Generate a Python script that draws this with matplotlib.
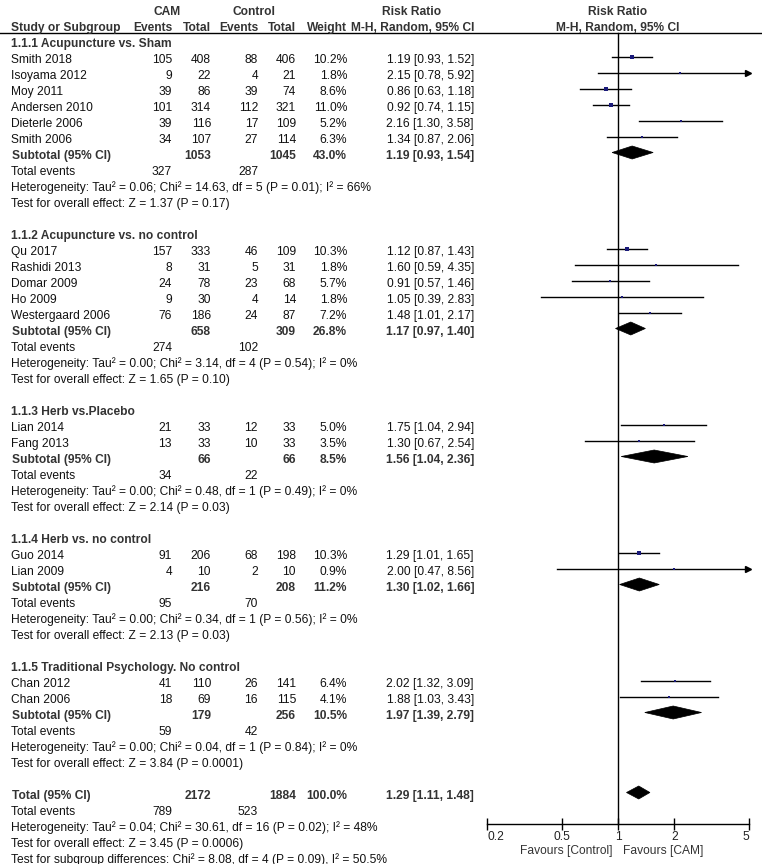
import matplotlib
matplotlib.use("Agg")
import matplotlib.pyplot as plt
from matplotlib.patches import Polygon
import numpy as np

plt.rcParams['font.family'] = ['Liberation Sans', 'DejaVu Sans']

# ---------------- data ----------------
group_names = ["1.1.1 Acupuncture vs. Sham", "1.1.2 Acupuncture vs. no control",
               "1.1.3 Herb vs.Placebo", "1.1.4 Herb vs. no control",
               "1.1.5 Traditional Psychology. No control"]

studies = [
    ["Smith 2018", "Isoyama 2012", "Moy 2011", "Andersen 2010", "Dieterle 2006", "Smith 2006"],
    ["Qu 2017", "Rashidi 2013", "Domar 2009", "Ho 2009", "Westergaard 2006"],
    ["Lian 2014", "Fang 2013"],
    ["Guo 2014", "Lian 2009"],
    ["Chan 2012", "Chan 2006"],
]
cam_events = [[105, 9, 39, 101, 39, 34], [157, 8, 24, 9, 76], [21, 13], [91, 4], [41, 18]]
cam_total = [[408, 22, 86, 314, 116, 107], [333, 31, 78, 30, 186], [33, 33], [206, 10], [110, 69]]
ctl_events = [[88, 4, 39, 112, 17, 27], [46, 5, 23, 4, 24], [12, 10], [68, 2], [26, 16]]
ctl_total = [[406, 21, 74, 321, 109, 114], [109, 31, 68, 14, 87], [33, 33], [198, 10], [141, 115]]
weights = [[10.2, 1.8, 8.6, 11.0, 5.2, 6.3], [10.3, 1.8, 5.7, 1.8, 7.2], [5.0, 3.5], [10.3, 0.9], [6.4, 4.1]]
rr = [[1.19, 2.15, 0.86, 0.92, 2.16, 1.34], [1.12, 1.60, 0.91, 1.05, 1.48], [1.75, 1.30], [1.29, 2.00], [2.02, 1.88]]
rr_lo = [[0.93, 0.78, 0.63, 0.74, 1.30, 0.87], [0.87, 0.59, 0.57, 0.39, 1.01], [1.04, 0.67], [1.01, 0.47], [1.32, 1.03]]
rr_hi = [[1.52, 5.92, 1.18, 1.15, 3.58, 2.06], [1.43, 4.35, 1.46, 2.83, 2.17], [2.94, 2.54], [1.65, 8.56], [3.09, 3.43]]

sub_cam_total = [1053, 658, 66, 216, 179]
sub_ctl_total = [1045, 309, 66, 208, 256]
sub_weight = [43.0, 26.8, 8.5, 11.2, 10.5]
sub_rr = [1.19, 1.17, 1.56, 1.30, 1.97]
sub_lo = [0.93, 0.97, 1.04, 1.02, 1.39]
sub_hi = [1.54, 1.40, 2.36, 1.66, 2.79]
sub_cam_events = [327, 274, 34, 95, 59]
sub_ctl_events = [287, 102, 22, 70, 42]
het_tau2 = ["0.06", "0.00", "0.00", "0.00", "0.00"]
het_chi2 = ["14.63", "3.14", "0.48", "0.34", "0.04"]
het_df = [5, 4, 1, 1, 1]
het_p = ["0.01", "0.54", "0.49", "0.56", "0.84"]
het_i2 = ["66", "0", "0", "0", "0"]
test_z = ["1.37", "1.65", "2.14", "2.13", "3.84"]
test_p = ["0.17", "0.10", "0.03", "0.03", "0.0001"]

total_cam_total, total_ctl_total = 2172, 1884
total_weight = 100.0
total_rr, total_lo, total_hi = 1.29, 1.11, 1.48
total_cam_events, total_ctl_events = 789, 523
total_het = "Heterogeneity: Tau² = 0.04; Chi² = 30.61, df = 16 (P = 0.02); I² = 48%"
total_test = "Test for overall effect: Z = 3.45 (P = 0.0006)"
subgroup_test = "Test for subgroup differences: Chi² = 8.08, df = 4 (P = 0.09), I² = 50.5%"

xticks = [0.2, 0.5, 1, 2, 5]
xtick_labels = ["0.2", "0.5", "1", "2", "5"]

# ---------------- layout ----------------
W, H = 762, 864
fig = plt.figure(figsize=(W / 100, H / 100), dpi=100)
tax = fig.add_axes([0, 0, 1, 1])
tax.set_xlim(0, W)
tax.set_ylim(H, 0)
tax.axis('off')

AX_L, AX_R, AX_B = 487, 749, 824
fax = fig.add_axes([AX_L / W, (H - AX_B) / H, (AX_R - AX_L) / W, AX_B / H])
fax.set_xscale('log')
fax.set_xlim(0.2, 5)
fax.set_ylim(AX_B, 0)
fax.patch.set_alpha(0)
for s in ['left', 'right', 'top']:
    fax.spines[s].set_visible(False)
fax.spines['bottom'].set_linewidth(1.0)
fax.set_yticks([])
fax.set_xticks(xticks)
fax.set_xticklabels(xtick_labels)
fax.minorticks_off()
fax.tick_params(axis='x', direction='inout', length=8, width=1.0, pad=1,
                labelsize=8.65, labelcolor='#222222')
tl = fax.get_xticklabels()
tl[0].set_horizontalalignment('left')
tl[-1].set_horizontalalignment('right')

FS = 8.65
C_REG = '#111111'
C_BOLD = '#333333'
ROW_H = 16

def ymark(r):
    return 8.5 + ROW_H * r

def ytext(r):
    return 15 + ROW_H * r

def txt(x, r, s, ha='left', bold=False, color=None):
    tax.text(x, ytext(r), s, ha=ha, va='baseline', fontsize=FS,
             fontweight='bold' if bold else 'normal',
             color=color if color else (C_BOLD if bold else C_REG))

X_NAME, X_CE, X_CT, X_KE, X_KT, X_W, X_RR = 11, 172, 211, 258, 296, 347, 474
X_PLOT_C = 618

# headers
txt(167, 0, "CAM", ha='center', bold=True)
txt(254, 0, "Control", ha='center', bold=True)
txt(412, 0, "Risk Ratio", ha='center', bold=True)
txt(X_PLOT_C, 0, "Risk Ratio", ha='center', bold=True)
txt(X_NAME, 1, "Study or Subgroup", bold=True)
txt(X_CE, 1, "Events", ha='right', bold=True)
txt(X_CT, 1, "Total", ha='right', bold=True)
txt(X_KE, 1, "Events", ha='right', bold=True)
txt(X_KT, 1, "Total", ha='right', bold=True)
txt(X_W, 1, "Weight", ha='right', bold=True)
txt(X_RR, 1, "M-H, Random, 95% CI", ha='right', bold=True)
txt(X_PLOT_C, 1, "M-H, Random, 95% CI", ha='center', bold=True)
tax.plot([0, W], [ymark(1.5), ymark(1.5)], color='black', lw=1.0)

fax.plot([1, 1], [ymark(1.5), AX_B], color='black', lw=1.0, clip_on=False)

def diamond(r, est, lo, hi):
    y = ymark(r)
    poly = Polygon([(lo, y), (est, y - 6.5), (hi, y), (est, y + 6.5)],
                   closed=True, facecolor='black', edgecolor='black', lw=0.5)
    fax.add_patch(poly)

row = 2
for g in range(len(group_names)):
    txt(X_NAME, row, group_names[g], bold=True)
    row += 1
    for i, name in enumerate(studies[g]):
        txt(X_NAME, row, name)
        txt(X_CE, row, str(cam_events[g][i]), ha='right')
        txt(X_CT, row, str(cam_total[g][i]), ha='right')
        txt(X_KE, row, str(ctl_events[g][i]), ha='right')
        txt(X_KT, row, str(ctl_total[g][i]), ha='right')
        txt(X_W, row, f"{weights[g][i]:.1f}%", ha='right')
        txt(X_RR, row, f"{rr[g][i]:.2f} [{rr_lo[g][i]:.2f}, {rr_hi[g][i]:.2f}]", ha='right')
        y = ymark(row)
        hi = rr_hi[g][i]
        fax.plot([rr_lo[g][i], min(hi, 5)], [y, y], color='black', lw=1.0, clip_on=False)
        if hi > 5:
            fax.plot([4.93], [y], marker='>', ms=5, color='black', clip_on=False)
        side_px = max(1.6, 1.05 * np.sqrt(weights[g][i]))
        fax.scatter([rr[g][i]], [y], marker='s', s=(side_px * 0.72) ** 2,
                    color='#1a1a7a', linewidths=0, zorder=3, clip_on=False)
        row += 1
    txt(X_NAME + 1, row, "Subtotal (95% CI)", bold=True)
    txt(X_CT, row, str(sub_cam_total[g]), ha='right', bold=True)
    txt(X_KT, row, str(sub_ctl_total[g]), ha='right', bold=True)
    txt(X_W, row, f"{sub_weight[g]:.1f}%", ha='right', bold=True)
    txt(X_RR, row, f"{sub_rr[g]:.2f} [{sub_lo[g]:.2f}, {sub_hi[g]:.2f}]", ha='right', bold=True)
    diamond(row, sub_rr[g], sub_lo[g], sub_hi[g])
    row += 1
    txt(X_NAME, row, "Total events")
    txt(X_CE, row, str(sub_cam_events[g]), ha='right')
    txt(X_KE, row, str(sub_ctl_events[g]), ha='right')
    row += 1
    txt(X_NAME, row, f"Heterogeneity: Tau² = {het_tau2[g]}; Chi² = {het_chi2[g]}, "
                     f"df = {het_df[g]} (P = {het_p[g]}); I² = {het_i2[g]}%")
    row += 1
    txt(X_NAME, row, f"Test for overall effect: Z = {test_z[g]} (P = {test_p[g]})")
    row += 2

# overall
txt(X_NAME + 1, row, "Total (95% CI)", bold=True)
txt(X_CT, row, str(total_cam_total), ha='right', bold=True)
txt(X_KT, row, str(total_ctl_total), ha='right', bold=True)
txt(X_W, row, f"{total_weight:.1f}%", ha='right', bold=True)
txt(X_RR, row, f"{total_rr:.2f} [{total_lo:.2f}, {total_hi:.2f}]", ha='right', bold=True)
diamond(row, total_rr, total_lo, total_hi)
row += 1
txt(X_NAME, row, "Total events")
txt(X_CE, row, str(total_cam_events), ha='right')
txt(X_KE, row, str(total_ctl_events), ha='right')
row += 1
txt(X_NAME, row, total_het)
row += 1
txt(X_NAME, row, total_test)
row += 1
txt(X_NAME, row, subgroup_test)

tax.text(613, 851, "Favours [Control]", ha='right', va='center', fontsize=FS, color='#333333')
tax.text(623, 851, "Favours [CAM]", ha='left', va='center', fontsize=FS, color='#333333')

fig.savefig("out.png", dpi=100)
